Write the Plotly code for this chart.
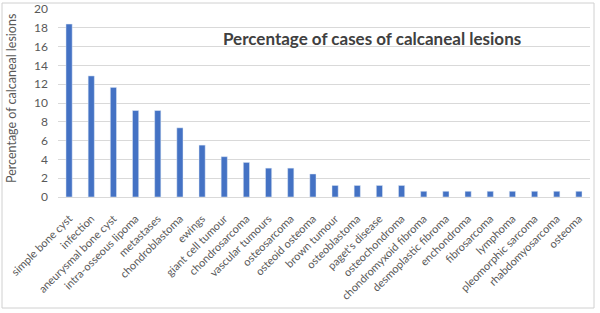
import plotly.graph_objects as go

categories = ["simple bone cyst", "infection", "aneurysmal bone cyst", "intra-osseous lipoma",
              "metastases", "chondroblastoma", "ewings", "giant cell tumour", "chondrosarcoma",
              "vascular tumours", "osteosarcoma", "osteoid osteoma", "brown tumour", "osteoblastoma",
              "paget's disease", "osteochondroma", "chondromyxoid fibroma", "desmoplastic fibroma",
              "enchondroma", "fibrosarcoma", "lymphoma", "pleomorphic sarcoma", "rhabdomyosarcoma",
              "osteoma"]
percentages = [18.4, 12.88, 11.66, 9.2, 9.2, 7.36, 5.52, 4.29, 3.68, 3.07, 3.07, 2.45, 1.23, 1.23,
               1.23, 1.23, 0.61, 0.61, 0.61, 0.61, 0.61, 0.61, 0.61, 0.61]
y_ticks = [0, 2, 4, 6, 8, 10, 12, 14, 16, 18, 20]

W, H = 600, 313
ml, mr, mt, mb = 58, 10, 9, 116
pw, ph = W - ml - mr, H - mt - mb

fig = go.Figure(go.Bar(x=categories, y=percentages, marker_color="#4472C4", width=0.28))

def px_x(p):
    return (p - ml) / pw

def px_y(p):
    return (H - mb - p) / ph

fig.update_layout(
    width=W, height=H,
    margin=dict(l=ml, r=mr, t=mt, b=mb, autoexpand=False),
    paper_bgcolor="white", plot_bgcolor="white",
    font=dict(family="Lato, Open Sans, sans-serif", color="#595959", size=11),
    showlegend=False,
    xaxis=dict(tickangle=-45, tickfont=dict(size=11, color="#595959"), showgrid=False,
               showline=True, linecolor="#d9d9d9", ticks="", range=[-0.5, len(categories) - 0.5],
               ticklabelstandoff=10),
    yaxis=dict(range=[0, 20], tickvals=y_ticks, showgrid=True, gridcolor="#d9d9d9", gridwidth=1,
               zeroline=False, ticks="", tickfont=dict(size=12, color="#595959"),
               ticklabelstandoff=9),
    annotations=[dict(text="<b>Percentage of cases of calcaneal lesions</b>", xref="paper", yref="paper",
                      x=px_x(372), y=px_y(38), xanchor="center", yanchor="middle", showarrow=False,
                      font=dict(size=17, color="#404040")),
                 dict(text="Percentage of calcaneal lesions", xref="paper", yref="paper",
                      x=px_x(11), y=px_y(99), xanchor="center", yanchor="middle", showarrow=False,
                      textangle=-90, font=dict(size=12.5, color="#595959"))],
    shapes=[dict(type="rect", xref="paper", yref="paper", x0=px_x(2), x1=px_x(594), y0=px_y(308), y1=px_y(3),
                 line=dict(color="#d0d0d0", width=1), layer="below")],
)

fig.write_html("out.html", config={"displayModeBar": False},
               post_script="document.body.style.margin='0';document.body.style.overflow='hidden';")
